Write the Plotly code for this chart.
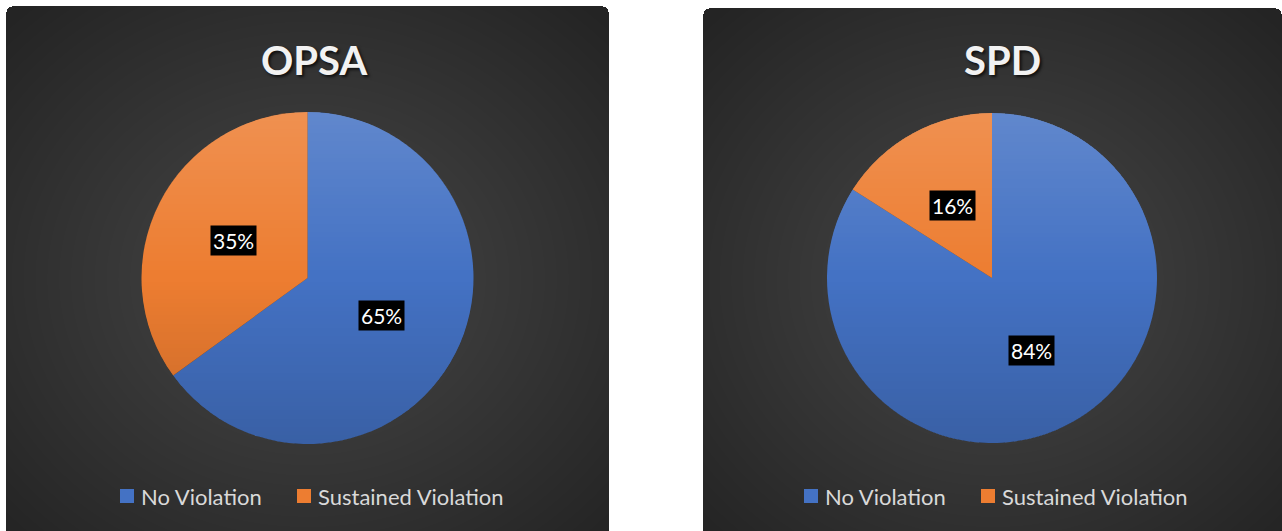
import base64, struct, zlib, math
import numpy as np
import plotly.graph_objects as go

# ---------------- data ----------------
labels = ["No Violation", "Sustained Violation"]
opsa_values = [65, 35]
spd_values = [84, 16]
titles = ["OPSA", "SPD"]
colors = ["#4472C4", "#ED7D31"]

W, H = 1282, 531

# ---------------- helpers ----------------
def png_uri(rgba):
    h, w, _ = rgba.shape
    raw = b"".join(b"\x00" + rgba[i].tobytes() for i in range(h))
    def chunk(t, d):
        c = struct.pack(">I", len(d)) + t + d
        return c + struct.pack(">I", zlib.crc32(t + d) & 0xffffffff)
    png = b"\x89PNG\r\n\x1a\n" + chunk(b"IHDR", struct.pack(">IIBBBBB", w, h, 8, 6, 0, 0, 0)) \
        + chunk(b"IDAT", zlib.compress(raw, 9)) + chunk(b"IEND", b"")
    return "data:image/png;base64," + base64.b64encode(png).decode()

def panel_bg(pw, ph, radius=6):
    yy, xx = np.mgrid[0:ph, 0:pw].astype(float)
    dx = (xx - pw * 0.5) / (pw * 0.5)
    dy = (yy - ph * 0.52) / (ph * 0.5)
    d = np.clip(np.sqrt(dx ** 2 + dy ** 2) / math.sqrt(2), 0, 1)
    v = 72 - 36 * d
    img = np.zeros((ph, pw, 4), dtype=np.uint8)
    img[..., 0] = img[..., 1] = img[..., 2] = v.astype(np.uint8)
    alpha = np.full((ph, pw), 255, dtype=np.uint8)
    for cx, cy in [(radius, radius), (pw - radius - 1, radius)]:
        mask = ((xx < radius) if cx == radius else (xx > pw - radius - 1)) & (yy < radius)
        dist = np.sqrt((xx - cx) ** 2 + (yy - cy) ** 2)
        alpha[mask & (dist > radius)] = 0
    img[..., 3] = alpha
    return png_uri(img)

def pie_shade(size):
    yy, xx = np.mgrid[0:size, 0:size].astype(float)
    c = (size - 1) / 2
    r = np.sqrt((xx - c) ** 2 + (yy - c) ** 2)
    t = yy / (size - 1)
    img = np.zeros((size, size, 4), dtype=np.uint8)
    light = np.clip(1 - 2 * t, 0, 1)
    dark = np.clip(2 * t - 1, 0, 1)
    rgb = np.where(t[..., None] < 0.5, 255, 0)
    img[..., 0:3] = rgb
    a = (light * 40 + dark * 40)
    a[r > c + 0.5] = 0
    img[..., 3] = a.astype(np.uint8)
    return png_uri(img)

# ---------------- layout geometry ----------------
panels = [(6, 6, 609, 531), (703, 8, 1282, 531)]
pie_geo = [(307.5, 278, 166), (992, 278, 165)]  # center x, center y (px from top), radius
title_pos = [(314, 60), (1002, 60)]
legend_sq_x = [[120, 297], [804, 981]]   # legend square left edges (px)
legend_y = 496
sq = 14
series = [opsa_values, spd_values]

fig = go.Figure()
images, annotations, shapes = [], [], []

for i, vals in enumerate(series):
    cx, cy, R = pie_geo[i]
    dom_x = [(cx - R) / W, (cx + R) / W]
    dom_y = [1 - (cy + R) / H, 1 - (cy - R) / H]
    fig.add_trace(go.Pie(
        labels=labels, values=vals, sort=False, direction="clockwise", rotation=0,
        marker=dict(colors=colors, line=dict(width=0)),
        textinfo="none", hoverinfo="label+percent",
        domain=dict(x=dom_x, y=dom_y), name=titles[i],
        showlegend=False,
    ))
    total = sum(vals)
    cum = 0
    for v in vals:
        mid = (cum + v / 2) / total * 2 * math.pi
        cum += v
        lx = cx + 0.5 * R * math.sin(mid)
        ly = cy - 0.5 * R * math.cos(mid)
        annotations.append(dict(
            x=lx / W, y=1 - ly / H, xref="paper", yref="paper",
            text=f"{round(v / total * 100)}%", showarrow=False,
            font=dict(family="Lato", size=21, color="#FFFFFF"),
            bgcolor="#000000", borderpad=2, xanchor="center", yanchor="middle",
        ))
    x0, y0, x1, y1 = panels[i]
    images.append(dict(
        source=panel_bg(x1 - x0, y1 - y0), xref="paper", yref="paper",
        x=x0 / W, y=1 - y0 / H, sizex=(x1 - x0) / W, sizey=(y1 - y0) / H,
        xanchor="left", yanchor="top", sizing="stretch", layer="below",
    ))
    images.append(dict(
        source=pie_shade(2 * R), xref="paper", yref="paper",
        x=(cx - R) / W, y=1 - (cy - R) / H, sizex=2 * R / W, sizey=2 * R / H,
        xanchor="left", yanchor="top", sizing="stretch", layer="above",
    ))
    tx, ty = title_pos[i]
    annotations.append(dict(
        x=tx / W, y=1 - ty / H, xref="paper", yref="paper", text=f"<b>{titles[i]}</b>",
        showarrow=False, xanchor="center", yanchor="middle",
        font=dict(family="Lato", size=40, color="#F2F2F2",
                  shadow="2px 2px 3px rgba(0,0,0,0.7)"),
    ))
    # legend (square + label) for this chart
    for lab, col, sx in zip(labels, colors, legend_sq_x[i]):
        shapes.append(dict(
            type="rect", xref="paper", yref="paper",
            x0=sx / W, x1=(sx + sq) / W,
            y0=1 - (legend_y + sq / 2) / H, y1=1 - (legend_y - sq / 2) / H,
            fillcolor=col, line=dict(width=0),
        ))
        annotations.append(dict(
            x=(sx + sq + 5) / W, y=1 - legend_y / H, xref="paper", yref="paper",
            text=lab, showarrow=False, xanchor="left", yanchor="middle",
            font=dict(family="Lato", size=22, color="#D9D9D9"),
        ))

fig.update_layout(
    width=W, height=H, margin=dict(l=0, r=0, t=0, b=0),
    paper_bgcolor="#FFFFFF", plot_bgcolor="#FFFFFF",
    images=images, annotations=annotations, shapes=shapes,
    showlegend=False,
)

fig.write_html("out.html", config={"displayModeBar": False},
               post_script="document.body.style.margin='0';")
